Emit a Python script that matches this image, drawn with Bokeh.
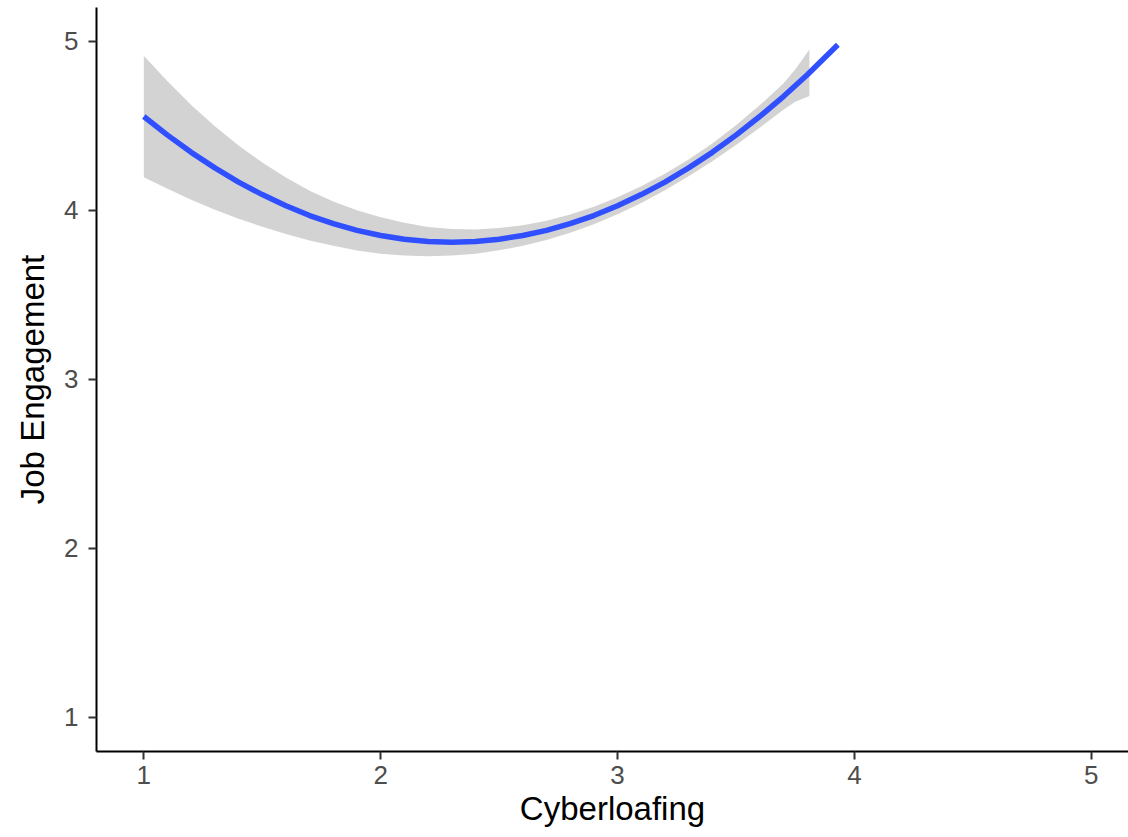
from bokeh.plotting import figure
from bokeh.models import Range1d, FixedTicker
from bokeh.embed import file_html
from bokeh.resources import INLINE

# Fitted curve
line_x = [1.0, 1.1, 1.2, 1.3, 1.4, 1.5, 1.6, 1.7, 1.8, 1.9, 2.0, 2.1, 2.2, 2.3, 2.4,
          2.5, 2.6, 2.7, 2.8, 2.9, 3.0, 3.1, 3.2, 3.3, 3.4, 3.5, 3.6, 3.7, 3.8, 3.93]
line_y = [4.554, 4.444, 4.342, 4.25, 4.166, 4.092, 4.026, 3.968, 3.92, 3.88, 3.85, 3.828, 3.814, 3.81, 3.814,
          3.828, 3.85, 3.88, 3.92, 3.968, 4.026, 4.092, 4.166, 4.25, 4.342, 4.444, 4.554, 4.672, 4.80, 4.979]

# Confidence band
band_x = [1.0, 1.1, 1.2, 1.3, 1.4, 1.5, 1.6, 1.7, 1.8, 1.9, 2.0, 2.1, 2.2, 2.3, 2.4,
          2.5, 2.6, 2.7, 2.8, 2.9, 3.0, 3.1, 3.2, 3.3, 3.4, 3.5, 3.6, 3.7, 3.75, 3.81]
band_upper = [4.914, 4.762, 4.622, 4.497, 4.383, 4.282, 4.193, 4.115, 4.051, 3.999, 3.958, 3.925, 3.901, 3.889, 3.886,
              3.894, 3.911, 3.937, 3.974, 4.02, 4.076, 4.141, 4.215, 4.30, 4.395, 4.502, 4.62, 4.75, 4.832, 4.951]
band_lower = [4.194, 4.126, 4.062, 4.003, 3.949, 3.902, 3.859, 3.821, 3.789, 3.761, 3.742, 3.731, 3.727, 3.731, 3.742,
              3.762, 3.789, 3.823, 3.866, 3.916, 3.976, 4.043, 4.117, 4.20, 4.289, 4.386, 4.488, 4.594, 4.642, 4.675]

x_ticks = [1, 2, 3, 4, 5]
y_ticks = [1, 2, 3, 4, 5]
x_tick_labels = ["1", "2", "3", "4", "5"]
y_tick_labels = ["1", "2", "3", "4", "5"]

p = figure(width=1128, height=837, output_backend="svg", toolbar_location=None,
           x_range=Range1d(0.8003, 5.157), y_range=Range1d(0.797, 5.199),
           x_axis_label="Cyberloafing", y_axis_label="Job Engagement")
p.min_border_left = 96
p.min_border_right = 0
p.min_border_top = 7
p.min_border_bottom = 86
p.outline_line_color = None
p.grid.visible = False
p.background_fill_color = "white"
p.border_fill_color = "white"

p.varea(x=band_x, y1=band_lower, y2=band_upper, fill_color="#999999", fill_alpha=0.43)
p.line(x=line_x, y=line_y, line_color="#3050FF", line_width=5.5, line_cap="butt", line_join="round")

for ax, ticks, labels in ((p.xaxis[0], x_ticks, x_tick_labels), (p.yaxis[0], y_ticks, y_tick_labels)):
    ax.ticker = FixedTicker(ticks=ticks)
    ax.major_label_overrides = {t: l for t, l in zip(ticks, labels)}
    ax.minor_tick_line_color = None
    ax.major_tick_in = 0
    ax.major_tick_out = 8
    ax.major_tick_line_width = 2
    ax.major_tick_line_color = "#333333"
    ax.axis_line_width = 2
    ax.axis_line_color = "black"
    ax.major_label_text_font = "Liberation Sans"
    ax.major_label_text_font_size = "26px"
    ax.major_label_text_color = "#4D4D4D"
    ax.axis_label_text_font = "Liberation Sans"
    ax.axis_label_text_font_size = "33px"
    ax.axis_label_text_font_style = "normal"
    ax.axis_label_text_color = "black"

p.xaxis[0].major_label_standoff = 6
p.xaxis[0].axis_label_standoff = 3
p.yaxis[0].major_label_standoff = 10
p.yaxis[0].axis_label_standoff = 10

open("out.html", "w").write(file_html(p, INLINE))
